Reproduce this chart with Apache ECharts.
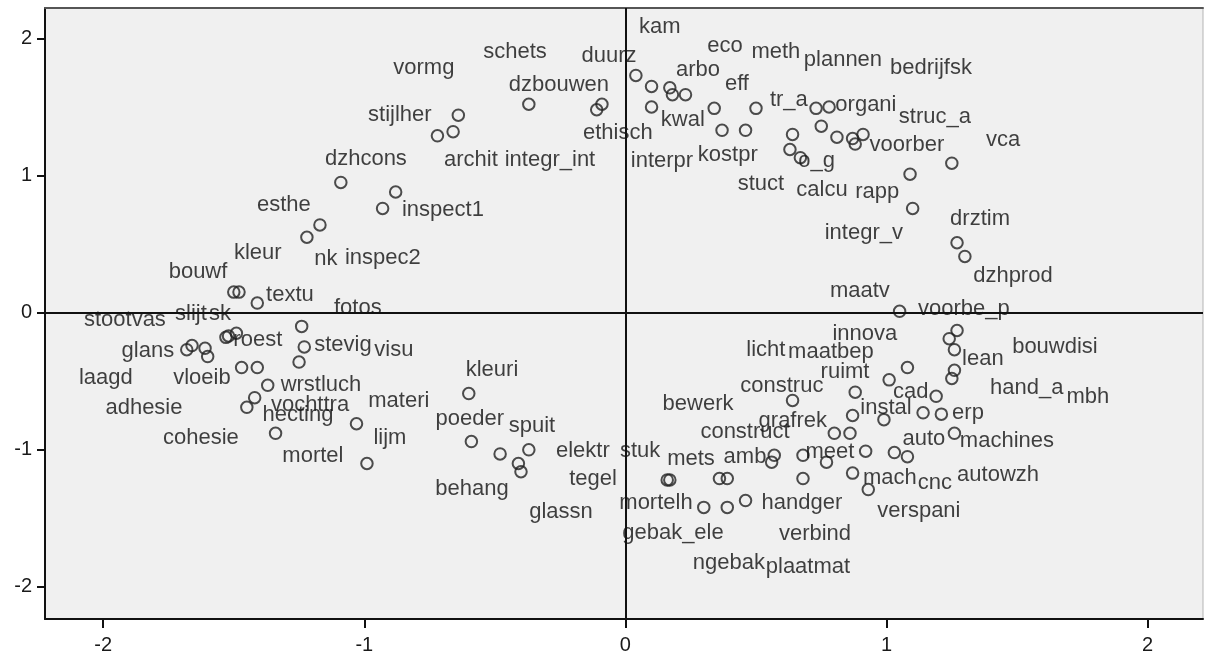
<!DOCTYPE html>
<html>
<head>
<meta charset="utf-8">
<script src="https://cdn.jsdelivr.net/npm/echarts@6/dist/echarts.min.js"></script>
<style>
html,body{margin:0;padding:0;background:#fff;}
#chart{width:1205px;height:662px;}
</style>
</head>
<body>
<div id="chart"></div>
<script>
// Object point coordinates (dimension 1, dimension 2)
const pointX = [-1.09,-0.88,-0.93,-1.17,-1.22,-0.64,-0.66,-0.72,-0.37,-0.09,-0.11,0.04,0.10,0.17,0.18,0.23,0.10,0.34,0.50,0.37,0.46,0.64,0.63,0.67,0.73,0.78,0.75,0.81,0.87,0.91,0.88,1.09,1.25,1.10,1.27,1.30,1.05,-1.50,-1.48,-1.41,-1.53,-1.52,-1.49,-1.68,-1.66,-1.61,-1.60,-1.47,-1.41,-1.37,-1.42,-1.45,-1.34,-1.24,-1.23,-1.25,-1.03,-0.99,-0.60,-0.59,-0.48,-0.37,-0.41,-0.40,0.17,0.16,0.36,0.39,0.30,0.39,0.46,0.57,0.56,0.68,0.68,0.77,0.80,0.86,0.87,0.92,1.03,1.08,0.87,0.93,1.27,1.24,1.26,1.26,1.25,1.08,1.01,1.19,1.14,1.21,1.26,0.88,0.99,0.64];
const pointY = [0.95,0.88,0.76,0.64,0.55,1.44,1.32,1.29,1.52,1.52,1.48,1.73,1.65,1.64,1.59,1.59,1.50,1.49,1.49,1.33,1.33,1.30,1.19,1.13,1.49,1.50,1.36,1.28,1.27,1.30,1.23,1.01,1.09,0.76,0.51,0.41,0.01,0.15,0.15,0.07,-0.18,-0.17,-0.15,-0.27,-0.24,-0.26,-0.32,-0.40,-0.40,-0.53,-0.62,-0.69,-0.88,-0.10,-0.25,-0.36,-0.81,-1.10,-0.59,-0.94,-1.03,-1.00,-1.10,-1.16,-1.22,-1.22,-1.21,-1.21,-1.42,-1.42,-1.37,-1.04,-1.09,-1.04,-1.21,-1.09,-0.88,-0.88,-0.75,-1.01,-1.02,-1.05,-1.17,-1.29,-0.13,-0.19,-0.27,-0.42,-0.48,-0.40,-0.49,-0.61,-0.73,-0.74,-0.88,-0.58,-0.78,-0.64];

// Object labels and where they sit (in the same dimension units)
const labelText = ["kam","schets","duurz","eco","meth","plannen","bedrijfsk","vormg","arbo","dzbouwen","eff","tr_a","organi","stijlher","kwal","struc_a","ethisch","voorber","vca","archit","integr_int","interpr","kostpr","o_g","dzhcons","stuct","calcu","rapp","inspect1","esthe","integr_v","drztim","nk","inspec2","kleur","bouwf","dzhprod","textu","maatv","fotos","voorbe_p","stootvas","slijt","sk","roest","innova","glans","stevig","visu","lean","bouwdisi","licht","maatbep","laagd","vloeib","kleuri","ruimt","wrstluch","construc","cad","hand_a","mbh","adhesie","vochttra","hecting","materi","bewerk","instal","erp","poeder","grafrek","spuit","cohesie","lijm","construct","auto","machines","mortel","elektr","stuk","mets","amb","meet","behang","tegel","mach","cnc","autowzh","glassn","mortelh","handger","verspani","gebak_ele","verbind","ngebak","plaatmat"];
const labelX = [0.132,-0.423,-0.063,0.381,0.576,0.833,1.170,-0.772,0.278,-0.255,0.427,0.626,0.921,-0.864,0.220,1.185,-0.029,1.078,1.446,-0.592,-0.289,0.140,0.392,0.732,-0.994,0.519,0.753,0.964,-0.699,-1.308,0.913,1.358,-1.147,-0.929,-1.408,-1.637,1.484,-1.285,0.898,-1.025,1.296,-1.917,-1.664,-1.553,-1.408,0.917,-1.829,-1.082,-0.887,1.369,1.645,0.538,0.787,-1.990,-1.622,-0.511,0.841,-1.166,0.599,1.093,1.537,1.771,-1.844,-1.208,-1.254,-0.868,0.278,0.998,1.312,-0.596,0.641,-0.358,-1.626,-0.902,0.458,1.143,1.461,-1.197,-0.163,0.056,0.251,0.458,0.783,-0.588,-0.124,1.013,1.185,1.427,-0.247,0.117,0.676,1.124,0.182,0.726,0.396,0.699];
const labelY = [2.084,1.902,1.872,1.945,1.902,1.843,1.785,1.785,1.770,1.661,1.668,1.551,1.515,1.442,1.405,1.427,1.311,1.223,1.260,1.114,1.114,1.107,1.150,1.107,1.121,0.939,0.895,0.880,0.748,0.785,0.581,0.683,0.392,0.399,0.435,0.297,0.268,0.129,0.158,0.034,0.027,-0.053,-0.009,-0.009,-0.199,-0.155,-0.279,-0.235,-0.272,-0.338,-0.250,-0.272,-0.286,-0.476,-0.476,-0.418,-0.432,-0.527,-0.535,-0.578,-0.549,-0.615,-0.695,-0.673,-0.746,-0.644,-0.666,-0.695,-0.731,-0.775,-0.790,-0.826,-0.914,-0.914,-0.870,-0.921,-0.936,-1.045,-1.009,-1.009,-1.067,-1.052,-1.016,-1.286,-1.213,-1.205,-1.242,-1.184,-1.453,-1.388,-1.388,-1.446,-1.607,-1.614,-1.826,-1.855];

const tickValues = [-2,-1,0,1,2];
const xRange = [-2.223, 2.212];
const yRange = [-2.234, 2.222];

const chart = echarts.init(document.getElementById('chart'), null, {renderer:'canvas'});
const FONT = '"Liberation Sans", Arial, sans-serif';

const baseAxis = (range) => ({
  type:'value', min:range[0], max:range[1],
  splitLine:{show:false}
});

chart.setOption({
  animation:false,
  backgroundColor:'#ffffff',
  grid:{left:45, right:2, top:8, bottom:43, show:true, backgroundColor:'#f0f0f0', borderColor:'#b5b5b5', borderWidth:1},
  xAxis:[
    Object.assign(baseAxis(xRange), {
      position:'bottom',
      axisLine:{show:true, onZero:false, lineStyle:{color:'#111', width:2}},
      axisTick:{show:true, length:9, customValues:tickValues, lineStyle:{color:'#111', width:2}},
      axisLabel:{show:true, customValues:tickValues, margin:16, color:'#1a1a1a', fontSize:20, fontFamily:FONT}
    }),
    Object.assign(baseAxis(xRange), {
      position:'top',
      axisLine:{show:true, onZero:false, lineStyle:{color:'#555', width:2}},
      axisTick:{show:false}, axisLabel:{show:false}
    })
  ],
  yAxis:[
    Object.assign(baseAxis(yRange), {
      position:'left',
      axisLine:{show:true, onZero:false, lineStyle:{color:'#111', width:2}},
      axisTick:{show:true, length:8, customValues:tickValues, lineStyle:{color:'#111', width:2}},
      axisLabel:{show:true, customValues:tickValues, margin:13, color:'#1a1a1a', fontSize:20, fontFamily:FONT}
    })
  ],
  series:[
    {
      type:'scatter',
      xAxisIndex:0, yAxisIndex:0,
      symbol:'circle', symbolSize:11.5,
      itemStyle:{color:'rgba(0,0,0,0)', borderColor:'#222', borderWidth:2},
      data: pointX.map((x,i)=>[x, pointY[i]]),
      markLine:{
        silent:true, symbol:['none','none'], label:{show:false},
        lineStyle:{color:'#111', width:2, type:'solid'},
        data:[{xAxis:0},{yAxis:0}]
      },
      z:3
    },
    {
      type:'scatter',
      xAxisIndex:0, yAxisIndex:0,
      symbol:'circle', symbolSize:1,
      itemStyle:{color:'rgba(0,0,0,0)'},
      label:{show:true, position:'inside', formatter:p=>p.name, color:'#111', fontSize:22, fontFamily:FONT},
      labelLayout:{hideOverlap:false},
      data: labelText.map((t,i)=>({name:t, value:[labelX[i], labelY[i]]})),
      z:4
    }
  ]
});
</script>
</body>
</html>
